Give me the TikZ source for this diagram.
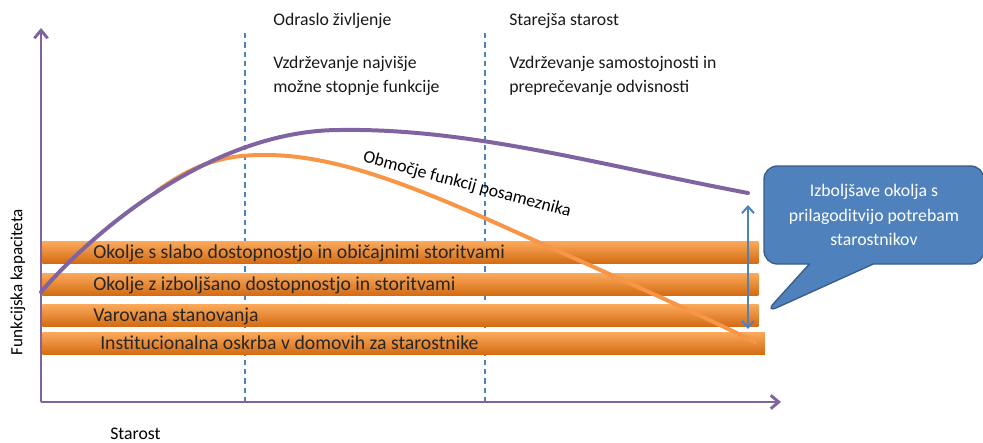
\documentclass[tikz,border=0pt]{standalone}
\usepackage{fontspec}
\setmainfont{Carlito}
\usetikzlibrary{arrows.meta,shapes.callouts}
\definecolor{axis}{HTML}{8064A2}
\definecolor{personal}{HTML}{F79646}
\definecolor{guide}{HTML}{4F81BD}
\definecolor{calloutline}{HTML}{385D8A}
\definecolor{bartop}{HTML}{FBAA5C}
\definecolor{barmid}{HTML}{F68E28}
\definecolor{barbot}{HTML}{D46C14}

\begin{document}
\begin{tikzpicture}[
  x=0.75pt, y=-0.75pt,
  axisline/.style={draw=axis, line width=2.2pt, -{Straight Barb[length=6pt,width=10pt]}},
  curve/.style={line width=3pt, line cap=round},
  guideline/.style={draw=guide, line width=0.8pt, dash pattern=on 4pt off 3pt},
  bar/.style={rectangle, anchor=west, minimum width=537pt, minimum height=16.5pt, inner sep=0pt,
    top color=bartop, middle color=barmid, bottom color=barbot},
  bartext/.style={anchor=west, inner sep=0pt, font=\fontsize{14.8}{16}\selectfont, text=black!85},
  head/.style={anchor=west, inner sep=0pt, font=\fontsize{13.3}{18}\selectfont, align=left, text=black!90},
  gap/.style={draw=guide, line width=1.5pt, {Straight Barb[length=5pt,width=9pt]}-{Straight Barb[length=5pt,width=9pt]}}
]
\useasboundingbox (0,0) rectangle (983,443);

% axes
\coordinate (origin) at (41,402);
\coordinate (ytop) at (41,28);
\coordinate (xend) at (781,402);

% stage boundaries
\coordinate (adulttop) at (245,33);
\coordinate (adultbot) at (245,402);
\coordinate (oldtop) at (485,33);
\coordinate (oldbot) at (485,402);
\draw[guideline] (adulttop) -- (adultbot);
\draw[guideline] (oldtop) -- (oldbot);

% environment bars
\node[bar] (poor) at (42,252) {};
\node[bar] (improved) at (42,284) {};
\node[bar] (sheltered) at (42,315) {};
\node[bar, minimum width=542pt] (care) at (42,343) {};
\node[bartext] (poortext) at (93,253) {Okolje s slabo dostopnostjo in običajnimi storitvami};
\node[bartext] (improvedtext) at (93,285) {Okolje z izboljšano dostopnostjo in storitvami};
\node[bartext] (shelteredtext) at (93,316) {Varovana stanovanja};
\node[bartext] (caretext) at (100,343) {Institucionalna oskrba v domovih za starostnike};

\draw[axisline] (origin) -- (ytop);
\draw[axisline] (origin) -- (xend);

% capacity curves
\draw[curve, draw=personal] (157,191) .. controls (200,160) and (230,155) .. (265,155)
  .. controls (330,155) and (400,180) .. (507,228)
  .. controls (600,270) and (680,305) .. (755,342);
\draw[curve, draw=axis] (41,292) .. controls (90,235) and (210,130) .. (340,130)
  .. controls (470,128) and (600,165) .. (748,193);

% gap arrow
\coordinate (gaptop) at (748,205);
\coordinate (gapbot) at (748,329);
\draw[gap] (gaptop) -- (gapbot);

% labels
\node[head] (adultname) at (273,21) {Odraslo življenje};
\node[head] (adultgoal) at (273,76) {Vzdrževanje najvišje\\možne stopnje funkcije};
\node[head] (oldname) at (509,21) {Starejša starost};
\node[head] (oldgoal) at (509,76) {Vzdrževanje samostojnosti in\\preprečevanje odvisnosti};
\node[rotate=-15, font=\fontsize{13.3}{15}\selectfont] (range) at (467,185) {Območje funkcij posameznika};
\node[rotate=90, font=\fontsize{12.8}{14}\selectfont] (ylabel) at (18,282) {Funkcijska kapaciteta};
\node[font=\fontsize{13.3}{15}\selectfont, anchor=west, inner sep=0pt] (xlabel) at (110,434) {Starost};

\node[rectangle callout, fill=guide, draw=calloutline, line width=1pt, rounded corners=10pt,
  minimum width=165pt, minimum height=73.5pt, callout absolute pointer={(765,313)},
  callout pointer width=48pt, text=white, align=center,
  font=\fontsize{13.3}{18.5}\selectfont] (note) at (874,215)
  {Izboljšave okolja s\\prilagoditvijo potrebam\\starostnikov};
\end{tikzpicture}
\end{document}
